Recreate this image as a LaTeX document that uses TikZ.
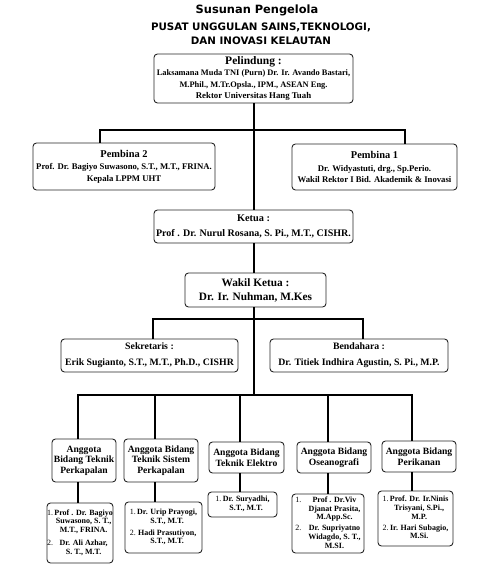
\documentclass[tikz,border=0pt]{standalone}
\usepackage{fontspec}
\setmainfont{Liberation Serif}
\newfontfamily\titlefont{DejaVu Sans}
\newcommand\sz[2]{\fontsize{#1}{#2}\selectfont}
\begin{document}
\begin{tikzpicture}[x=1pt,y=-1pt,
  box/.style={draw=black!85, line width=0.9pt, rounded corners=3.5pt, fill=white,
    align=center, inner sep=0pt},
  conn/.style={line width=2pt, black},
  ttl/.style={inner sep=0pt, font=\titlefont\bfseries}]
\useasboundingbox (0,0) rectangle (497,570);
% titles
\node[ttl, font=\titlefont\bfseries\sz{11.4}{12}] (t1) at (257,10) {Susunan Pengelola};
\node[ttl, font=\titlefont\bfseries\sz{10.3}{11}] (t2) at (261,27) {PUSAT UNGGULAN SAINS,TEKNOLOGI,};
\node[ttl, font=\titlefont\bfseries\sz{10.3}{11}] (t3) at (261,41) {DAN INOVASI KELAUTAN};
% top boxes
\node[box, minimum width=199pt, minimum height=49pt, font=\bfseries\sz{8.4}{11.3}] (pel) at (253.5,78.5)
  {{\sz{11.5}{12}Pelindung :}\\ {\sz{8.4}{10}Laksamana Muda TNI (Purn) Dr. Ir. Avando Bastari,}\\
   {\sz{8.4}{10}M.Phil., M.Tr.Opsla., IPM., ASEAN Eng.}\\ {\sz{8.8}{10}Rektor Universitas Hang Tuah}};
\node[box, minimum width=182pt, minimum height=47pt, font=\bfseries\sz{8.7}{11.2}] (pem2) at (124,166.5)
  {{\sz{10.4}{11}Pembina 2}\\[1.5pt] {Prof. Dr. Bagiyo Suwasono, S.T., M.T., FRINA.}\\ {Kepala LPPM UHT}};
\node[box, minimum width=165pt, minimum height=46pt, font=\bfseries\sz{8.7}{11.2}] (pem1) at (374.5,167)
  {{\sz{10.4}{11}Pembina 1}\\[1.5pt] {Dr. Widyastuti, drg., Sp.Perio.}\\ {Wakil Rektor I Bid. Akademik \& Inovasi}};
\node[box, minimum width=199pt, minimum height=33pt, font=\bfseries\sz{10}{15}] (ketua) at (253.5,226.5)
  {{\sz{10.3}{11}Ketua :}\\ {Prof . Dr. Nurul Rosana, S. Pi., M.T., CISHR.}};
\node[box, minimum width=141pt, minimum height=34pt, font=\bfseries\sz{11.3}{14}] (wakil) at (255.5,290)
  {Wakil Ketua :\\ Dr. Ir. Nuhman, M.Kes};
\node[box, minimum width=177pt, minimum height=33pt, font=\bfseries\sz{9.8}{16}] (sek) at (149.5,355.5)
  {Sekretaris :\\ Erik Sugianto, S.T., M.T., Ph.D., CISHR};
\node[box, minimum width=178pt, minimum height=33pt, font=\bfseries\sz{9.8}{16}] (ben) at (359,355.5)
  {Bendahara :\\ Dr. Titiek Indhira Agustin, S. Pi., M.P.};
% heads
\tikzset{head/.style={box, font=\bfseries\sz{9.6}{10.5}}}
\node[head, minimum width=64pt, minimum height=43pt] (h1) at (84,460.5) {Anggota\\ Bidang Teknik\\ Perkapalan};
\node[head, minimum width=74pt, minimum height=43pt] (h2) at (161,460.5) {Anggota Bidang\\ Teknik Sistem\\ Perkapalan};
\node[head, minimum width=75pt, minimum height=31pt] (h3) at (246.5,457.5) {Anggota Bidang\\ Teknik Elektro};
\node[head, minimum width=74pt, minimum height=31pt] (h4) at (334,457.5) {Anggota Bidang\\ Oseanografi};
\node[head, minimum width=74pt, minimum height=31pt] (h5) at (419,456.5) {Anggota Bidang\\ Perikanan};
% members
\tikzset{memb/.style={box, font=\bfseries\sz{8}{8.8}}}
\node[memb, minimum width=66pt, minimum height=60pt] (m1) at (80,533)
  {\begin{tabular}{@{}r@{\,}c@{}}{\mdseries 1.}&Prof . Dr. Bagiyo\\ &Suwasono, S. T.,\\ &M.T., FRINA.\\[4pt]
   {\mdseries 2.}&Dr. Ali Azhar,\\ &S. T., M.T.\end{tabular}};
\node[memb, minimum width=77pt, minimum height=51pt] (m2) at (163.5,527.5)
  {\begin{tabular}{@{}r@{\,}c@{}}{\mdseries 1.}&Dr. Urip Prayogi,\\ &S.T., M.T.\\[3pt]
   {\mdseries 2.}&Hadi Prasutiyon,\\ &S.T., M.T.\end{tabular}};
\node[memb, minimum width=69pt, minimum height=25pt] (m3) at (242.5,504.5)
  {\begin{tabular}{@{}r@{\,}c@{}}{\mdseries 1.}&Dr. Suryadhi,\\ &S.T., M.T.\end{tabular}};
\node[memb, minimum width=72pt, minimum height=59pt] (m4) at (328,523.5)
  {\begin{tabular}{@{}l@{\hspace{7pt}}c@{}}{\mdseries 1.}&Prof . Dr.Viv\\ &Djanat Prasita,\\ &M.App.Sc.\\[2pt]
   {\mdseries 2.}&Dr. Supriyatno\\ &Widagdo, S. T.,\\ &M.SI.\end{tabular}};
\node[memb, minimum width=75pt, minimum height=55pt] (m5) at (415.5,518.5)
  {\begin{tabular}{@{}r@{\,}c@{}}{\mdseries 1.}&Prof. Dr. Ir.Ninis\\ &Trisyani, S.Pi.,\\ &M.P.\\[2pt]
   {\mdseries 2.}&Ir. Hari Subagio,\\ &M.Si.\end{tabular}};
% connectors
\coordinate (b2) at (100,130);
\coordinate (b1) at (405,130);
\coordinate (tr) at (254,395);
\coordinate (s1) at (153,319);
\coordinate (s2) at (363,319);
\coordinate (l1) at (77.5,395);
\coordinate (l2) at (155,395);
\coordinate (l3) at (240,395);
\coordinate (l4) at (327.5,395);
\coordinate (l5) at (411.5,395);
\draw[conn] (pel.south -| tr) -- (ketua.north -| tr);
\draw[conn] (b2 |- pem2.north) -- (b2) -- (b1) -- (b1 |- pem1.north);
\draw[conn] (ketua.south -| tr) -- (wakil.north -| tr);
\draw[conn] (wakil.south -| tr) -- (tr);
\draw[conn] (s1 |- sek.north) -- (s1) -- (s2) -- (s2 |- ben.north);
\draw[conn] (l1 |- h1.north) -- (l1) -- (l5) -- (l5 |- h5.north);
\foreach \k in {2,3,4}{\draw[conn] (l\k) -- (l\k |- h\k.north);}
\foreach \k in {1,...,5}{\draw[conn] (h\k.south -| l\k) -- (l\k |- m\k.north);}
\end{tikzpicture}
\end{document}
